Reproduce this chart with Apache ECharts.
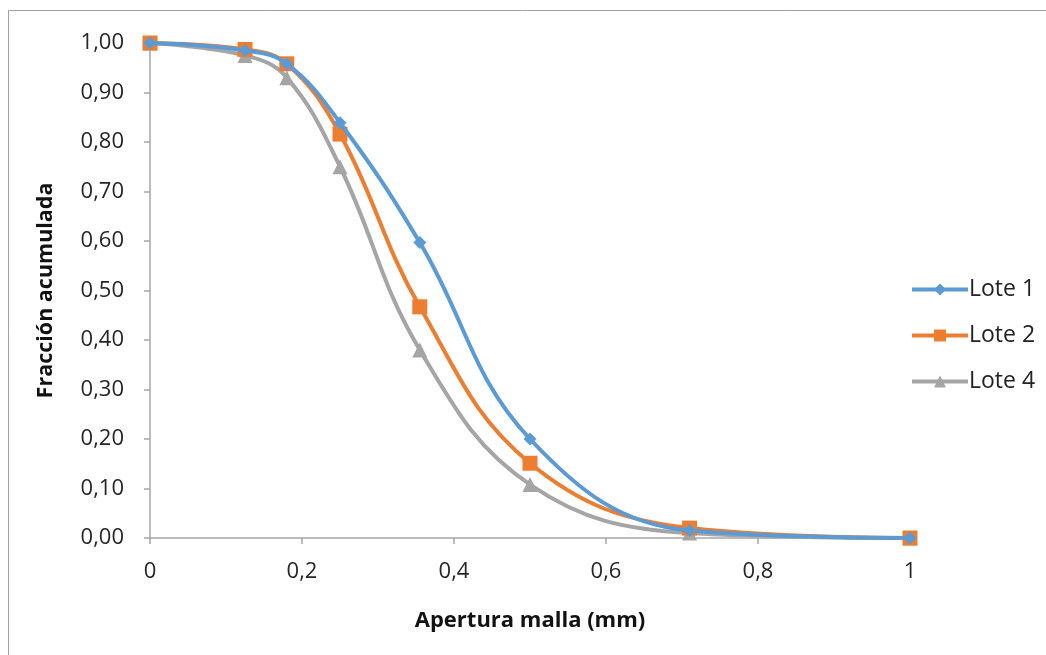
<!DOCTYPE html>
<html>
<head>
<meta charset="utf-8">
<script src="https://cdn.jsdelivr.net/npm/echarts@6/dist/echarts.min.js"></script>
<style>
html,body{margin:0;padding:0;background:#fff;}
#c{width:1046px;height:655px;}
</style>
</head>
<body>
<div id="c"></div>
<script>
var xValues = [0, 0.125, 0.18, 0.25, 0.355, 0.5, 0.71, 1];
var lote1 = [1.00, 0.985, 0.958, 0.839, 0.597, 0.200, 0.015, 0.000];
var lote2 = [1.00, 0.987, 0.958, 0.816, 0.467, 0.151, 0.020, 0.000];
var lote4 = [1.00, 0.975, 0.930, 0.750, 0.380, 0.108, 0.010, 0.000];
var seriesNames = ['Lote 1', 'Lote 2', 'Lote 4'];
var colors = ['#5B9BD5', '#ED7D31', '#A5A5A5'];
var symbols = ['diamond', 'rect', 'triangle'];
var symbolSizes = [13, 15, 15];
var xTitle = 'Apertura malla (mm)';
var yTitle = 'Fracción acumulada';

function pairs(ys){ return xValues.map(function(x,i){ return [x, ys[i]]; }); }
var allData = [lote1, lote2, lote4];

var font = "'Open Sans', 'Noto Sans', sans-serif";
var chart = echarts.init(document.getElementById('c'));
chart.setOption({
  animation: false,
  backgroundColor: '#fff',
  textStyle: {fontFamily: font},
  grid: {left: 150, right: 136, top: 43, bottom: 117},
  graphic: [{
    type: 'polyline',
    shape: {points: [[8.5, 655], [8.5, 10.5], [1046, 10.5]]},
    style: {stroke: '#A0A0A0', lineWidth: 1, fill: null}
  }],
  legend: {
    orient: 'vertical',
    left: 905,
    top: 272,
    itemWidth: 56,
    itemHeight: 15,
    itemGap: 21,
    lineStyle: {width: 4},
    textStyle: {fontSize: 23, lineHeight: 25, color: '#222', fontFamily: font, padding: [0,0,0,-4]},
    data: seriesNames
  },
  xAxis: {
    type: 'value',
    min: 0, max: 1, interval: 0.2,
    name: xTitle,
    nameLocation: 'middle',
    nameGap: 72,
    nameTextStyle: {fontSize: 22, fontWeight: 'bold', color: '#111', fontFamily: font},
    axisLine: {show: true, onZero: false, lineStyle: {color: '#A6A6A6', width: 1.5}},
    axisTick: {show: true, length: 6, lineStyle: {color: '#A6A6A6', width: 1.5}},
    splitLine: {show: false},
    axisLabel: {fontSize: 22, color: '#262626', margin: 23,
      formatter: function(v){ return String(Math.round(v*10)/10).replace('.', ','); }}
  },
  yAxis: {
    type: 'value',
    min: 0, max: 1, interval: 0.1,
    name: yTitle,
    nameLocation: 'middle',
    nameGap: 93,
    nameTextStyle: {fontSize: 21.5, fontWeight: 'bold', color: '#111', fontFamily: font},
    axisLine: {show: true, lineStyle: {color: '#A6A6A6', width: 1.5}},
    axisTick: {show: true, length: 6, lineStyle: {color: '#A6A6A6', width: 1.5}},
    splitLine: {show: false},
    axisLabel: {fontSize: 22, color: '#262626', margin: 26,
      formatter: function(v){ return v.toFixed(2).replace('.', ','); }}
  },
  series: seriesNames.map(function(n, i){
    return {
      name: n,
      type: 'line',
      data: pairs(allData[i]),
      smooth: 0.4,
      symbol: symbols[i],
      symbolSize: symbolSizes[i],
      showAllSymbol: true,
      color: colors[i],
      itemStyle: {color: colors[i]},
      lineStyle: {color: colors[i], width: 4},
      z: 3 - i
    };
  })
});
</script>
</body>
</html>
